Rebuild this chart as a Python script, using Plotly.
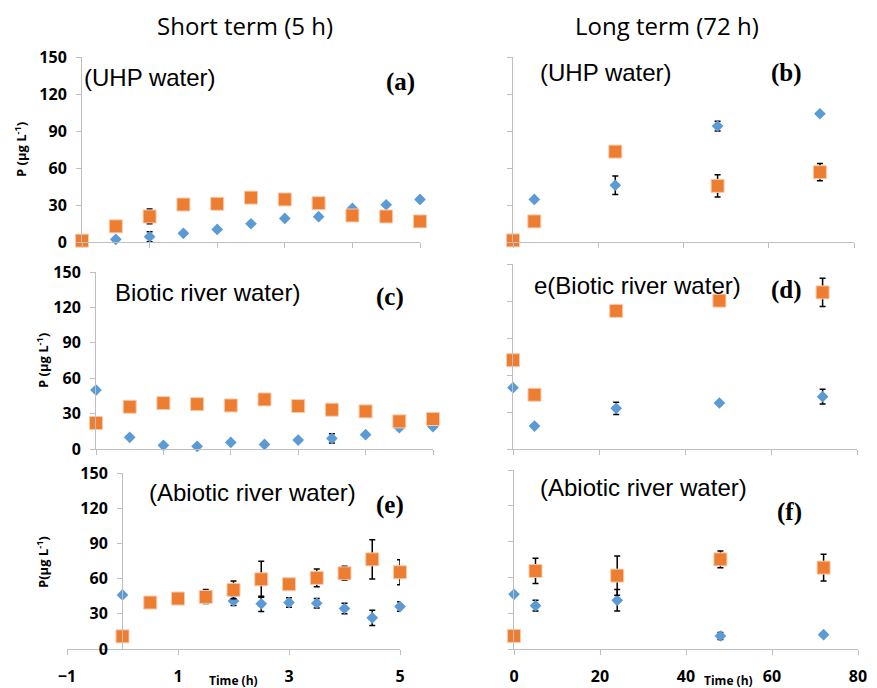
import plotly.graph_objects as go

# page body has an 8px margin: figure is sized to fill the rest of the window
OFF = 8
W, H = 877 - OFF, 688 - OFF

# ---------------- data ----------------
t_short = [0, 0.5, 1, 1.5, 2, 2.5, 3, 3.5, 4, 4.5, 5]
t_long = [0, 5, 24, 48, 72]

a_blue = [1, 2.2, 4.3, 7, 10.2, 14.8, 19.1, 20.5, 27.2, 30.2, 34.5]
a_blue_err = [0, 0, 4, 0, 0, 0, 0, 0, 0, 0, 0]
a_orange = [1.1, 12.7, 20.7, 30.4, 31, 36, 34.5, 31.5, 21.5, 20.7, 16.7]
a_orange_err = [0, 0, 6, 0, 0, 0, 0, 4, 4, 0, 0]

b_blue = [1, 34.5, 46, 94, 104]
b_blue_err = [0, 0, 7.5, 4, 0]
b_orange = [1.3, 16.7, 73.3, 45.5, 56.6]
b_orange_err = [0, 0, 3, 9, 7]

c_blue = [49.9, 9.9, 3.1, 2.3, 5.6, 3.9, 7.6, 9, 12.1, 18, 18.9]
c_blue_err = [0, 0, 0, 0, 0, 0, 0, 4, 0, 0, 0]
c_orange = [22, 35.8, 38.9, 38, 36.9, 42, 36.4, 33.3, 31.9, 23.4, 25.4]
c_orange_err = [0, 0, 0, 0, 0, 0, 0, 0, 0, 0, 0]

d_blue = [49.7, 18.6, 33, 37.3, 42.4]
d_blue_err = [0, 0, 5, 0, 6]
d_orange = [72, 44, 112, 120.3, 127]
d_orange_err = [0, 0, 0, 0, 11.4]

e_blue = [46.1, 39, 44, 44.7, 41, 38.5, 39.6, 39, 34.5, 26.6, 36.2]
e_blue_err = [0, 3, 4, 6, 4, 6.5, 4, 4, 4.5, 6.5, 4]
e_orange = [10.8, 39.6, 43, 44.4, 50.4, 59.4, 55.2, 60.6, 64.5, 76.4, 65.4]
e_orange_err = [0, 4.5, 2, 3, 7.5, 15.3, 0, 7.5, 6, 16.7, 10.6]

f_blue = [45.8, 36.3, 40.8, 10.9, 12]
f_blue_err = [0, 4.5, 9, 3, 0]
f_orange = [10.9, 65.4, 61.5, 75.1, 68.2]
f_orange_err = [0, 10.6, 16.5, 7, 11.2]

y_ticks = [0, 30, 60, 90, 120, 150]
x_ticks_short = [0, 1, 2, 3, 4, 5]
x_ticks_short_e = [-1, 1, 3, 5]
x_ticks_long = [0, 20, 40, 60, 80]
titles = ["Short term (5 h)", "Long term (72 h)"]
panel_texts = ["(UHP water)", "(UHP water)", "Biotic river water)",
               "e(Biotic river water)", "(Abiotic river water)", "(Abiotic river water)"]
panel_letters = ["(a)", "(b)", "(c)", "(d)", "(e)", "(f)"]

BLUE = "#5B9BD5"
ORANGE = "#ED7D31"
AXIS = "#BFBFBF"


def px(x):
    return (x - OFF) / W


def py(y):
    return 1 - (y - OFF) / H


fig = go.Figure()

# panel geometry in window pixels: (x0, x1, xrange, xticks, y_bottom(0), y_top(150), yaxis_x_px)
panels = [
    (82, 420, [0, 5], x_ticks_short, 242, 57, None),
    (513, 854, [0, 80], x_ticks_long, 242, 57, None),
    (96, 433, [0, 5], x_ticks_short, 449, 272, None),
    (513, 857, [0, 80], x_ticks_long, 449, 264, None),
    (67, 400, [-1, 5], x_ticks_short_e, 649, 473, 122),
    (514, 858, [0, 80], x_ticks_long, 649, 470, None),
]

series = [
    (t_short, a_blue, a_blue_err, a_orange, a_orange_err),
    (t_long, b_blue, b_blue_err, b_orange, b_orange_err),
    (t_short, c_blue, c_blue_err, c_orange, c_orange_err),
    (t_long, d_blue, d_blue_err, d_orange, d_orange_err),
    (t_short, e_blue, e_blue_err, e_orange, e_orange_err),
    (t_long, f_blue, f_blue_err, f_orange, f_orange_err),
]

tickfont = dict(family="Open Sans", size=16, color="black", weight="bold")

for i, (p, s) in enumerate(zip(panels, series)):
    n = i + 1
    xa = "x" if n == 1 else f"x{n}"
    ya = "y" if n == 1 else f"y{n}"
    xkey = "xaxis" if n == 1 else f"xaxis{n}"
    ykey = "yaxis" if n == 1 else f"yaxis{n}"
    x0, x1, xr, xtv, yb, yt, yax = p
    t, bv, be, ov, oe = s
    left = (i % 2 == 0)
    bottom = (i >= 4)

    fig.add_trace(go.Scatter(
        x=t, y=bv, mode="markers", xaxis=xa, yaxis=ya, cliponaxis=False,
        marker=dict(symbol="diamond", size=9, color=BLUE, line=dict(width=0)),
        error_y=dict(type="data", array=be, visible=True, color="black",
                     thickness=1.5, width=3),
        showlegend=False))
    fig.add_trace(go.Scatter(
        x=t, y=ov, mode="markers", xaxis=xa, yaxis=ya, cliponaxis=False,
        marker=dict(symbol="square", size=13, color=ORANGE,
                    line=dict(width=1, color="#F8CBAD")),
        error_y=dict(type="data", array=oe, visible=True, color="black",
                     thickness=1.5, width=3),
        showlegend=False))

    fig.layout[xkey] = dict(
        domain=[px(x0), px(x1)], range=xr, anchor=ya, automargin=False,
        showline=True, linecolor=AXIS, linewidth=1,
        ticks="outside", ticklen=5, tickcolor=AXIS,
        tickvals=xtv, showticklabels=bottom, tickfont=tickfont,
        ticklabelstandoff=8,
        showgrid=False, zeroline=False, fixedrange=True)
    yd = dict(
        domain=[py(yb), py(yt)], range=[0, 150], automargin=False,
        showline=True, linecolor=AXIS, linewidth=1,
        ticks="outside", ticklen=5, tickcolor=AXIS,
        tickvals=y_ticks, showticklabels=left, tickfont=tickfont,
        ticklabelstandoff=6,
        showgrid=False, zeroline=False, fixedrange=True)
    if yax is not None:
        yd["anchor"] = "free"
        yd["position"] = px(yax)
    else:
        yd["anchor"] = xa
    fig.layout[ykey] = yd

annotations = []
# column titles
for txt, cx in zip(titles, [245, 667]):
    annotations.append(dict(text=txt, x=px(cx), y=py(25), xref="paper", yref="paper",
                            showarrow=False, xanchor="center", yanchor="middle",
                            font=dict(family="Open Sans", size=24, color="black")))

# panel texts (left x, center y)
ptext_pos = [(82, 78), (538, 72), (113, 292), (532, 285), (147, 492), (538, 487)]
letter_pos = [(400, 82), (786, 73), (390, 297), (786, 290), (390, 505), (789, 512)]
for txt, (lx, ly) in zip(panel_texts, ptext_pos):
    annotations.append(dict(text=txt, x=px(lx), y=py(ly), xref="paper", yref="paper",
                            showarrow=False, xanchor="left", yanchor="middle",
                            font=dict(family="Liberation Sans", size=24, color="black")))
for txt, (lx, ly) in zip(panel_letters, letter_pos):
    annotations.append(dict(text=txt, x=px(lx), y=py(ly), xref="paper", yref="paper",
                            showarrow=False, xanchor="center", yanchor="middle",
                            font=dict(family="Liberation Serif", size=25, color="black",
                                      weight="bold")))

# y-axis labels
ylab = [("P (μg L<sup>-1</sup>)", 20, 150), ("P (μg L<sup>-1</sup>)", 42, 361),
        ("P(μg L<sup>-1</sup>)", 42, 562)]
for txt, lx, ly in ylab:
    annotations.append(dict(text=txt, x=px(lx), y=py(ly), xref="paper", yref="paper",
                            showarrow=False, xanchor="center", yanchor="middle",
                            textangle=-90,
                            font=dict(family="Open Sans", size=13, color="black",
                                      weight="bold")))

# x-axis titles
for lx in [233, 728]:
    annotations.append(dict(text="Time (h)", x=px(lx), y=py(680), xref="paper",
                            yref="paper", showarrow=False, xanchor="center",
                            yanchor="middle",
                            font=dict(family="Open Sans", size=12, color="black",
                                      weight="bold")))

fig.update_layout(
    width=W, height=H, margin=dict(l=0, r=0, t=0, b=0, autoexpand=False),
    paper_bgcolor="white", plot_bgcolor="white",
    annotations=annotations, showlegend=False)

fig.write_html("out.html", config={"displayModeBar": False})
